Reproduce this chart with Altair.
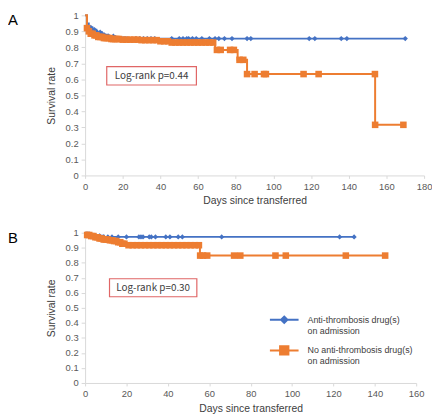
import altair as alt
import numpy as np
import pandas as pd

BLUE = "#4472C4"
ORANGE = "#ED7D31"
BOX_RED = "#E06666"

# ---------------- Panel A data ----------------
A_BLUE_T = [0, 1, 2, 4, 6, 9, 12, 16, 22, 170]
A_BLUE_S = [1.0, 0.95, 0.925, 0.91, 0.895, 0.88, 0.87, 0.862, 0.855, 0.855]
A_BLUE_CENS = [3, 4, 5, 6.5, 8, 10, 12.5, 15, 27, 29, 31, 33, 35, 37, 46, 50, 52,
               54, 55, 57, 59, 62, 66, 69, 71, 74, 78, 86, 88, 119, 122, 136, 139, 170]

A_ORANGE_T = [0, 1, 2, 3, 5, 7, 10, 14, 20, 30, 40, 46, 69, 81, 86, 154, 169]
A_ORANGE_S = [1.0, 0.92, 0.9, 0.885, 0.875, 0.865, 0.858, 0.852, 0.848, 0.845,
              0.838, 0.83, 0.784, 0.722, 0.633, 0.316, 0.316]
A_ORANGE_CENS = [1, 2, 3, 4, 5, 6, 7, 8, 9, 10, 11, 12, 13, 14, 15, 16, 17, 18, 20,
                 22, 24, 26, 28, 30, 32, 34, 36, 38, 40, 42, 44, 46, 48, 50, 52, 54,
                 56, 58, 60, 62, 64, 66, 68, 70, 72, 77, 79, 82, 84, 86, 90, 95, 96,
                 116, 124, 153.9, 154, 169]

# ---------------- Panel B data ----------------
B_BLUE_T = [0, 2, 5, 9, 130]
B_BLUE_S = [1.0, 0.99, 0.98, 0.972, 0.972]
B_BLUE_CENS = [7, 9, 11, 13, 16, 20, 26, 27, 28, 31, 32, 34, 39, 41, 45, 47, 66, 123, 130]

B_ORANGE_T = [0, 1, 3, 5, 7, 9, 12, 14, 16, 18, 20, 55.5, 145]
B_ORANGE_S = [1.0, 0.985, 0.978, 0.97, 0.962, 0.955, 0.95, 0.945, 0.937, 0.927,
              0.917, 0.848, 0.848]
B_ORANGE_CENS = [1, 2, 3, 4, 5, 6, 7, 8, 9, 10, 11, 12, 13, 14, 15, 16, 17, 18, 19,
                 21, 23, 25, 27, 29, 31, 33, 35, 37, 39, 41, 43, 45, 47, 49, 51, 53,
                 55, 55.6, 57, 59, 72, 75, 92, 97, 126, 145]

LEGEND_LABELS = ["Anti-thrombosis drug(s)|on admission",
                 "No anti-thrombosis drug(s)|on admission"]

Y_TICKS = [0, 0.1, 0.2, 0.3, 0.4, 0.5, 0.6, 0.7, 0.8, 0.9, 1.0]
A_X_TICKS = [0, 20, 40, 60, 80, 100, 120, 140, 160, 180]
B_X_TICKS = [0, 20, 40, 60, 80, 100, 120, 140, 160]

# annotation boxes (data coordinates): x1, x2, y1, y2, text
A_NOTE = dict(x1=11.5, x2=59.1, y1=0.565, y2=0.679, text="Log-rank p=0.44")
B_NOTE = dict(x1=11.8, x2=54.0, y1=0.574, y2=0.694, text="Log-rank p=0.30")

PATH_DIAMOND = "M-1,-0.07H1V0.07H-1Z M0,-0.32L0.32,0L0,0.32L-0.32,0Z"
PATH_SQUARE = "M-1,-0.07H1V0.07H-1Z M-0.36,-0.36H0.36V0.36H-0.36Z"


def step_df(ts, ss):
    return pd.DataFrame({"t": ts, "s": ss})


def cens_df(ts, ss, cens):
    ts = np.asarray(ts, dtype=float)
    ss = np.asarray(ss, dtype=float)
    idx = np.searchsorted(ts, np.asarray(cens, dtype=float), side="right") - 1
    return pd.DataFrame({"t": cens, "s": ss[idx]})


def panel(letter, bt, bs, bc, ot, os_, oc, xmax, xticks, note, w, h, legend=False):
    xscale = alt.Scale(domain=[0, xmax], nice=False)
    yscale = alt.Scale(domain=[0, 1], nice=False)
    xaxis = alt.Axis(values=xticks, title="Days since transferred", format="d",
                     labelOverlap=False, labelFlush=False, labelBound=False)
    yaxis = alt.Axis(values=Y_TICKS, title="Survival rate", format=".1~f",
                     labelOverlap=False, labelFlush=False, labelBound=False)

    def X(f):
        return alt.X(f, scale=xscale, axis=xaxis)

    def Y(f):
        return alt.Y(f, scale=yscale, axis=yaxis)

    blue_line = alt.Chart(step_df(bt, bs)).mark_line(
        interpolate="step-after", color=BLUE, strokeWidth=1.8).encode(x=X("t:Q"), y=Y("s:Q"))
    orange_line = alt.Chart(step_df(ot, os_)).mark_line(
        interpolate="step-after", color=ORANGE, strokeWidth=2).encode(x=X("t:Q"), y=Y("s:Q"))
    blue_pts = alt.Chart(cens_df(bt, bs, bc)).mark_point(
        shape="diamond", filled=True, size=28, color=BLUE, opacity=1).encode(
        x=X("t:Q"), y=Y("s:Q"))
    orange_pts = alt.Chart(cens_df(ot, os_, oc)).mark_square(
        size=44, color=ORANGE, opacity=1).encode(x=X("t:Q"), y=Y("s:Q"))

    note_df = pd.DataFrame([note])
    box = alt.Chart(note_df).mark_rect(
        fill="white", stroke=BOX_RED, strokeWidth=1.2).encode(
        x=X("x1:Q"), x2="x2:Q", y=Y("y1:Q"), y2="y2:Q")
    note_text = alt.Chart(note_df).transform_calculate(
        xm="(datum.x1 + datum.x2) / 2", ym="(datum.y1 + datum.y2) / 2").mark_text(
        font="Noto Sans CJK JP", fontSize=10, color="#404040").encode(
        x=X("xm:Q"), y=Y("ym:Q"), text="text:N")

    letter_text = alt.Chart(pd.DataFrame({"lab": [letter]})).mark_text(
        align="left", baseline="top", fontSize=15, font="Liberation Sans",
        color="#000000").encode(x=alt.value(-78), y=alt.value(-2), text="lab:N")

    layers = [box, note_text, blue_line, blue_pts, orange_line, orange_pts, letter_text]

    if legend:
        leg = alt.Legend(orient="none", legendX=187, legendY=(1 - 0.424) * h - 14,
                         title=None, symbolSize=841, symbolStrokeWidth=0,
                         symbolOpacity=1, labelFont="Liberation Sans", labelFontSize=9,
                         labelColor="#404040", labelExpr="split(datum.label, '|')",
                         labelOffset=9, rowPadding=0, padding=0, labelLimit=300)
        leg_layer = alt.Chart(pd.DataFrame({"group": LEGEND_LABELS})).mark_point(
            filled=True, opacity=0).encode(
            fill=alt.Fill("group:N", scale=alt.Scale(domain=LEGEND_LABELS,
                                                     range=[BLUE, ORANGE]), legend=leg),
            shape=alt.Shape("group:N", scale=alt.Scale(domain=LEGEND_LABELS,
                                                       range=[PATH_DIAMOND, PATH_SQUARE]),
                            legend=leg))
        layers.append(leg_layer)

    return alt.layer(*layers).properties(width=w, height=h)


panel_a = panel("A", A_BLUE_T, A_BLUE_S, A_BLUE_CENS, A_ORANGE_T, A_ORANGE_S,
                A_ORANGE_CENS, 180, A_X_TICKS, A_NOTE, 343, 162)
panel_b = panel("B", B_BLUE_T, B_BLUE_S, B_BLUE_CENS, B_ORANGE_T, B_ORANGE_S,
                B_ORANGE_CENS, 160, B_X_TICKS, B_NOTE, 335, 152, legend=True)

chart = alt.vconcat(panel_a, panel_b, spacing=22).resolve_legend(
    fill="independent", shape="independent").properties(
    padding=0, background="white").configure_view(stroke=None).configure_axis(
    grid=False, domainColor="#D9D9D9", tickColor="#D9D9D9", tickSize=4,
    labelColor="#595959", labelFont="Liberation Sans", labelFontSize=9.5,
    labelPadding=3,
    titleFont="Liberation Sans", titleFontSize=10.5,
    titleFontWeight="normal", titleColor="#404040").configure_axisY(
    titlePadding=9).configure_axisX(titlePadding=5, tickSize=3)

chart.save("out.html", embed_options={"renderer": "svg", "actions": False})
